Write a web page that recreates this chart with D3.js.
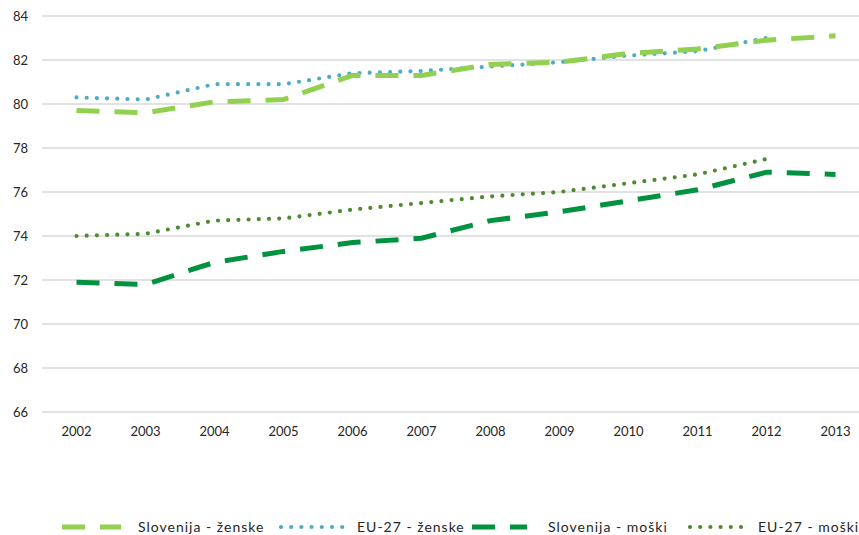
<!DOCTYPE html>
<html>
<head>
<meta charset="utf-8">
<script src="https://d3js.org/d3.v7.min.js"></script>
<style>
  body { margin: 0; background: #fff; }
  text { font-family: "Lato", "DejaVu Sans", sans-serif; fill: #262626; }
</style>
</head>
<body>
<div id="chart"></div>
<script>
// Chart data
var years = ["2002", "2003", "2004", "2005", "2006", "2007", "2008", "2009", "2010", "2011", "2012", "2013"];
var sloZenske = [79.7, 79.6, 80.1, 80.2, 81.3, 81.3, 81.8, 81.9, 82.3, 82.5, 82.9, 83.1];
var euZenske = [80.3, 80.2, 80.9, 80.9, 81.4, 81.5, 81.7, 81.9, 82.2, 82.4, 83.0, null];
var sloMoski = [71.9, 71.8, 72.8, 73.3, 73.7, 73.9, 74.7, 75.1, 75.6, 76.1, 76.9, 76.8];
var euMoski = [74.0, 74.1, 74.7, 74.8, 75.2, 75.5, 75.8, 76.0, 76.4, 76.8, 77.5, null];
var yTicks = [66, 68, 70, 72, 74, 76, 78, 80, 82, 84];

var seriesNames = ["Slovenija - ženske", "EU-27 - ženske", "Slovenija - moški", "EU-27 - moški"];
var seriesValues = [sloZenske, euZenske, sloMoski, euMoski];
var seriesColors = ["#92d050", "#4bacc6", "#00923f", "#4e8a2e"];
var seriesDashed = [true, false, true, false];

// SVG area
var svgWidth = 859;
var svgHeight = 535;

var svg = d3.select("#chart")
  .append("svg")
  .attr("width", svgWidth)
  .attr("height", svgHeight);

// scales
var xScale = d3.scaleBand()
  .domain(years)
  .range([42, 870]);

var yScale = d3.scaleLinear()
  .domain([66, 84])
  .range([412, 16]);

// gridlines
svg.append("g")
  .selectAll("line")
  .data(yTicks)
  .enter()
  .append("line")
  .attr("x1", 42)
  .attr("x2", svgWidth)
  .attr("y1", d => yScale(d))
  .attr("y2", d => yScale(d))
  .attr("stroke", "#d9d9d9")
  .attr("stroke-width", 1.3);

// y axis labels
var yAxis = d3.axisLeft(yScale).tickValues(yTicks).tickSize(0).tickPadding(0);
svg.append("g")
  .attr("transform", "translate(28,0)")
  .call(yAxis)
  .call(g => g.select(".domain").remove())
  .selectAll("text")
  .style("font-size", "13px")
  .style("font-family", "Lato, 'DejaVu Sans', sans-serif")
  .attr("fill", "#262626");

// x axis labels
var xAxis = d3.axisBottom(xScale).tickSize(0).tickPadding(0);
svg.append("g")
  .attr("transform", "translate(0,427)")
  .call(xAxis)
  .call(g => g.select(".domain").remove())
  .selectAll("text")
  .style("font-size", "13px")
  .style("font-family", "Lato, 'DejaVu Sans', sans-serif")
  .attr("fill", "#262626");

// lines
var line = d3.line()
  .defined(d => d.v !== null)
  .x(d => xScale(d.year) + xScale.bandwidth() / 2)
  .y(d => yScale(d.v));

function styleLine(sel, i) {
  sel.attr("fill", "none")
    .attr("stroke", seriesColors[i]);
  if (seriesDashed[i]) {
    sel.attr("stroke-width", 5)
      .attr("stroke-dasharray", "23,15");
  } else {
    sel.attr("stroke-width", 4.2)
      .attr("stroke-linecap", "round")
      .attr("stroke-dasharray", "0,10.2");
  }
}

// draw order: Slovenia dashed over the EU dotted like the original
var drawOrder = [1, 0, 3, 2];
drawOrder.forEach(function(i) {
  var pts = years.map((y, j) => ({ year: y, v: seriesValues[i][j] }));
  svg.append("path")
    .datum(pts)
    .attr("d", line)
    .call(styleLine, i);
});

// legend
var legendY = 527;
var legendSym = [[62, 121], [281, 345], [472, 527], [690, 746]];
var legendText = [138, 357, 548, 758];
seriesNames.forEach(function(name, i) {
  svg.append("line")
    .attr("x1", legendSym[i][0])
    .attr("x2", legendSym[i][1])
    .attr("y1", legendY)
    .attr("y2", legendY)
    .call(styleLine, i);
  svg.append("text")
    .attr("x", legendText[i])
    .attr("y", legendY + 5)
    .style("font-size", "14px")
    .style("letter-spacing", "1px")
    .text(name);
});
</script>
</body>
</html>
